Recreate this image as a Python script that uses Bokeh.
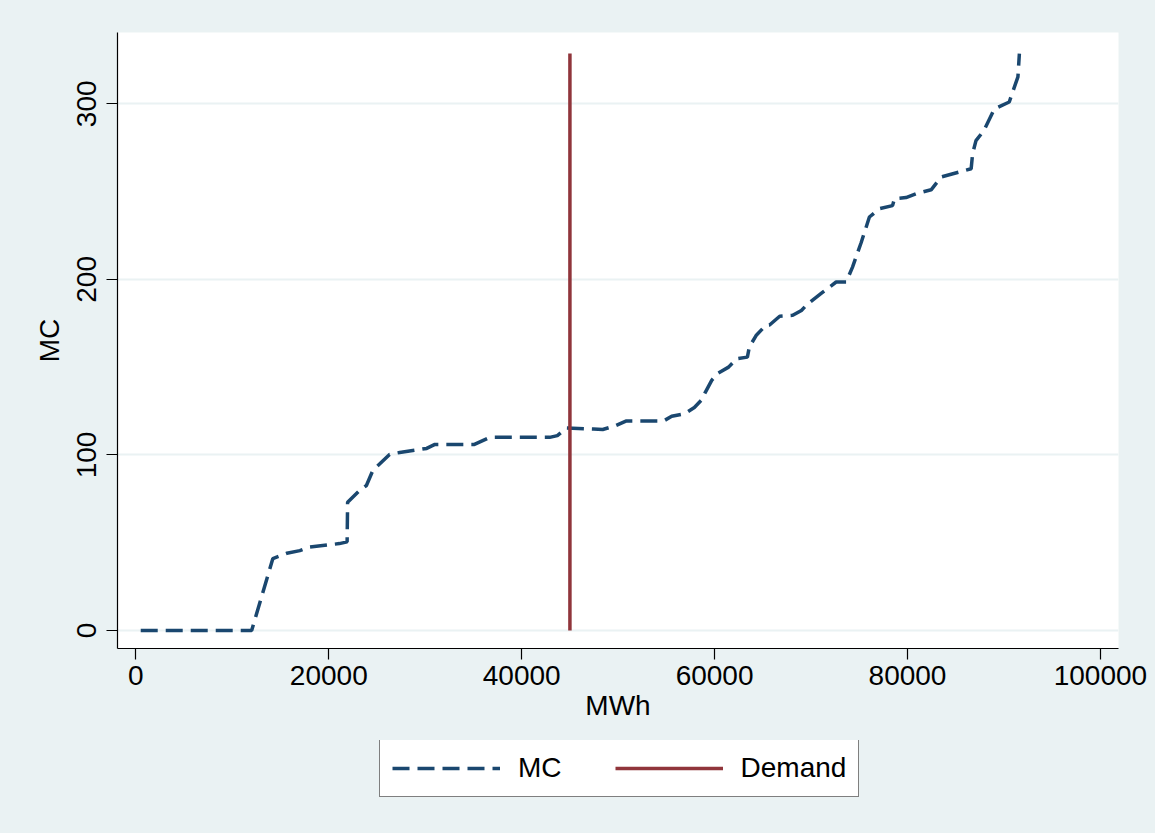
from bokeh.plotting import figure
from bokeh.layouts import column
from bokeh.models import Range1d, FixedTicker, Legend, LegendItem
from bokeh.embed import file_html
from bokeh.resources import INLINE

# Marginal cost curve (MWh, MC)
mc_mwh = [500, 12000, 14200, 15650, 17000, 18000, 21100, 21900, 21950, 23200,
          23900, 24550, 26300, 27350, 30150, 31000, 35100, 36700, 42900, 43700,
          44650, 47450, 48400, 49800, 50800, 54700, 55550, 56900, 57900, 58700,
          59050, 59700, 60300, 61450, 62300, 63400, 63600, 64300, 65300, 65700,
          66750, 68100, 69000, 69650, 71050, 72600, 73650, 74300, 75200, 76050,
          77100, 78450, 78650, 79850, 80900, 82450, 83500, 86600, 86750, 87100,
          87950, 89000, 90550, 90900, 91450, 91600]
mc_val = [0, 0, 41, 44, 45.5, 47.5, 49.5, 50.5, 73, 79.8,
          82.6, 91, 100.3, 101.4, 103.7, 106, 106, 110, 110, 111,
          115.3, 114.7, 114.5, 116.8, 119.3, 119.3, 122, 123.5, 127, 131.6,
          135.8, 142.5, 146.4, 150, 154.8, 155.7, 161.4, 168, 173.8, 174,
          179, 179.5, 182.3, 186, 192, 198.5, 198.5, 207, 221, 235.5,
          240.3, 242, 246, 246.6, 248.8, 251, 258.3, 263, 271.6, 279,
          285, 297, 301, 306.7, 315.3, 328.6]

# Demand (vertical line)
demand_mwh = [45000, 45000]
demand_val = [0, 328.6]

x_ticks = [0, 20000, 40000, 60000, 80000, 100000]
y_ticks = [0, 100, 200, 300]

BG = "#EAF2F3"
FONT = "Liberation Sans"
FS = "28px"
MC_STYLE = dict(line_color="#1A476F", line_width=3.5, line_dash="17 8")
DM_STYLE = dict(line_color="#90353B", line_width=3.5)

p = figure(width=1155, height=740, output_backend="svg", toolbar_location=None,
           x_range=Range1d(-1908, 101877), y_range=Range1d(-10.25, 340.6),
           min_border_left=117, min_border_right=37, min_border_top=32,
           min_border_bottom=92)
p.border_fill_color = BG
p.background_fill_color = "white"
p.outline_line_color = None

p.line(mc_mwh, mc_val, **MC_STYLE)
p.line(demand_mwh, demand_val, **DM_STYLE)

p.xgrid.grid_line_color = None
p.ygrid.grid_line_color = BG
p.ygrid.grid_line_width = 2
p.ygrid.ticker = FixedTicker(ticks=y_ticks)

for ax in (p.xaxis[0], p.yaxis[0]):
    ax.axis_line_color = "black"
    ax.axis_line_width = 1.2
    ax.major_tick_line_color = "black"
    ax.major_tick_line_width = 1.2
    ax.major_tick_out = 11
    ax.major_tick_in = 0
    ax.minor_tick_line_color = None
    ax.major_label_text_font = FONT
    ax.major_label_text_font_size = FS
    ax.major_label_text_color = "black"
    ax.axis_label_text_font = FONT
    ax.axis_label_text_font_size = FS
    ax.axis_label_text_font_style = "normal"
    ax.axis_label_text_color = "black"

p.xaxis.ticker = FixedTicker(ticks=x_ticks)
p.xaxis.major_label_overrides = {t: str(t) for t in x_ticks}
p.xaxis.axis_label = "MWh"
p.xaxis.major_label_standoff = 6
p.xaxis.axis_label_standoff = 2

p.yaxis.ticker = FixedTicker(ticks=y_ticks)
p.yaxis.major_label_overrides = {t: str(t) for t in y_ticks}
p.yaxis.major_label_orientation = "vertical"
p.yaxis.axis_label = "MC"
p.yaxis.major_label_standoff = 10
p.yaxis.axis_label_standoff = 10

# Legend strip below the plot (same series, drawn out of view; only the key shows)
lg = figure(width=1155, height=93, output_backend="svg", toolbar_location=None,
            x_axis_type=None, y_axis_type=None,
            x_range=Range1d(-3, -2), y_range=Range1d(-3, -2),
            min_border_left=117, min_border_right=37, min_border_top=0,
            min_border_bottom=0)
lg.border_fill_color = BG
lg.background_fill_color = None
lg.outline_line_color = None
lg.grid.visible = False
mc_key = lg.line(mc_mwh, mc_val, **MC_STYLE)
dm_key = lg.line(demand_mwh, demand_val, **DM_STYLE)

legend = Legend(items=[LegendItem(label="MC", renderers=[mc_key]),
                       LegendItem(label="Demand", renderers=[dm_key])],
                orientation="horizontal", location=(262, 36))
legend.label_text_font = FONT
legend.label_text_font_size = FS
legend.label_text_color = "black"
legend.glyph_width = 108
legend.glyph_height = 20
legend.label_standoff = 18
legend.spacing = 53
legend.padding = 12
legend.margin = 0
legend.border_line_color = "black"
legend.border_line_width = 1.5
legend.background_fill_color = "white"
legend.background_fill_alpha = 1
lg.add_layout(legend, "center")

layout = column(p, lg, spacing=0, styles={"background-color": BG})
open("out.html", "w").write(file_html(layout, INLINE))
